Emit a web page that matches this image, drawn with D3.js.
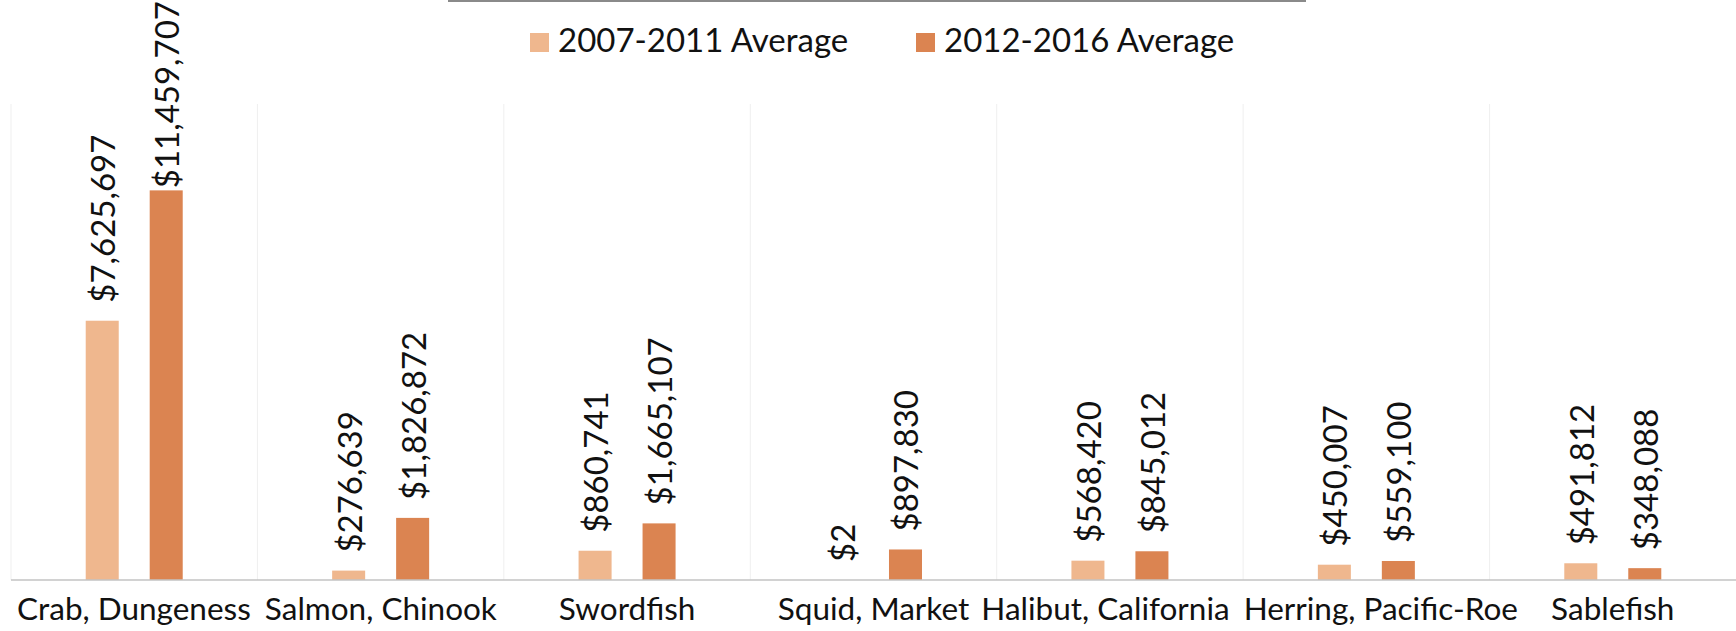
<!DOCTYPE html>
<html>
<head>
<meta charset="utf-8">
<script src="https://cdn.jsdelivr.net/npm/d3@7"></script>
<style>
  body { margin: 0; background: #fff; }
  svg { display: block; font-family: Lato, "Open Sans", sans-serif; }
</style>
</head>
<body>
<div id="chart"></div>
<script>
// Fishery revenue, two five-year averages per species
var categories = ["Crab, Dungeness", "Salmon, Chinook", "Swordfish", "Squid, Market",
                  "Halibut, California", "Herring, Pacific-Roe", "Sablefish"];
var seriesNames = ["2007-2011 Average", "2012-2016 Average"];
var avg0711 = [7625697, 276639, 860741, 2, 568420, 450007, 491812];
var avg1216 = [11459707, 1826872, 1665107, 897830, 845012, 559100, 348088];
var colors = ["#EFB78E", "#DB8451"];

var W = 1736, H = 631;
var margin = {left: 11, right: 0, top: 104, bottom: 51};
var baseY = H - margin.bottom;

var svg = d3.select("#chart").append("svg")
    .attr("width", W)
    .attr("height", H);

// bit of the title box border that shows at the top edge
svg.append("line")
    .attr("x1", 448).attr("x2", 1306)
    .attr("y1", 1).attr("y2", 1)
    .style("stroke", "#8a8a8a")
    .style("stroke-width", 2);

// scales
var x0 = d3.scaleBand().domain(categories).range([margin.left, W - margin.right]);
var x1 = d3.scaleBand().domain([0, 1]).range([-48.5, 48.5]).paddingInner(0.484);
var y = d3.scaleLinear().domain([0, 14000000]).range([baseY, margin.top]);

// vertical separators between categories
var seps = categories.map(function(c){ return x0(c); });
svg.append("g").selectAll("line")
    .data(seps)
    .enter().append("line")
    .attr("x1", function(d){ return d; })
    .attr("x2", function(d){ return d; })
    .attr("y1", y(14000000))
    .attr("y2", baseY)
    .style("stroke", "#efefef")
    .style("stroke-width", 1);

// rows of data
var rows = categories.map(function(c, i){
    return {cat: c, vals: [avg0711[i], avg1216[i]]};
});

var fmt = d3.format("$,");

var groups = svg.append("g").selectAll("g")
    .data(rows)
    .enter().append("g")
    .attr("transform", function(d){ return "translate(" + (x0(d.cat) + x0.bandwidth() / 2) + ",0)"; });

groups.selectAll("rect")
    .data(function(d){ return d.vals; })
    .enter().append("rect")
    .attr("x", function(d, i){ return x1(i); })
    .attr("width", x1.bandwidth())
    .attr("y", function(d){ return y(d); })
    .attr("height", function(d){ return baseY - y(d); })
    .style("fill", function(d, i){ return colors[i]; });

// value labels, rotated; pushed down if they would leave the top of the picture
groups.selectAll("text.val")
    .data(function(d){ return d.vals; })
    .enter().append("text")
    .attr("class", "val")
    .text(function(d){ return fmt(d); })
    .style("font-size", "33px")
    .style("fill", "#111")
    .attr("dominant-baseline", "central")
    .attr("transform", function(d, i){
        var len = this.getComputedTextLength();
        var start = Math.max(y(d) - 18, len + 1);
        return "translate(" + (x1(i) + x1.bandwidth() / 2) + "," + start + ") rotate(-90)";
    });

// x axis line
svg.append("line")
    .attr("x1", margin.left).attr("x2", W)
    .attr("y1", baseY).attr("y2", baseY)
    .style("stroke", "#c3c3c3")
    .style("stroke-width", 1.5);

// category labels
var catLabels = svg.append("g").selectAll("text")
    .data(categories)
    .enter().append("text")
    .attr("x", function(d){ return x0(d) + x0.bandwidth() / 2; })
    .attr("y", 620)
    .attr("text-anchor", "middle")
    .style("font-size", "31.5px")
    .style("fill", "#111")
    .text(function(d){ return d; });

// long neighbours would collide: push them apart a little
var nodes = catLabels.nodes();
for (var i = 1; i < nodes.length; i++) {
    var a = nodes[i - 1].getBBox(), b = nodes[i].getBBox();
    var overlap = (a.x + a.width + 14) - b.x;
    if (overlap > 0) {
        d3.select(nodes[i - 1]).attr("x", +nodes[i - 1].getAttribute("x") - overlap / 2);
        d3.select(nodes[i]).attr("x", +nodes[i].getAttribute("x") + overlap / 2);
    }
}

// legend
var legendX = [530, 916];
var legend = svg.append("g").selectAll("g")
    .data(seriesNames)
    .enter().append("g")
    .attr("transform", function(d, i){ return "translate(" + legendX[i] + ",0)"; });

legend.append("rect")
    .attr("x", 0).attr("y", 33)
    .attr("width", 19).attr("height", 19)
    .style("fill", function(d, i){ return colors[i]; });

legend.append("text")
    .attr("x", 28).attr("y", 52)
    .style("font-size", "33px")
    .style("fill", "#111")
    .text(function(d){ return d; });
</script>
</body>
</html>
